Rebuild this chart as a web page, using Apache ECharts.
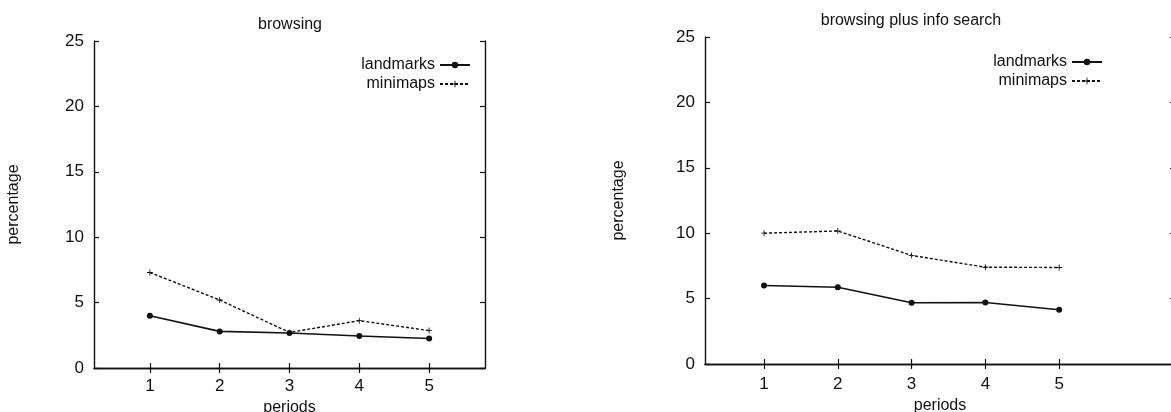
<!DOCTYPE html>
<html>
<head>
<meta charset="utf-8">
<script src="https://cdn.jsdelivr.net/npm/echarts@6/dist/echarts.min.js"></script>
<style>
html,body{margin:0;padding:0;background:#fff;}
#c{width:1171px;height:412px;}
</style>
</head>
<body>
<div id="c"></div>
<script>
// ---- data ----
var periods = [1, 2, 3, 4, 5];
var yTicks = [0, 5, 10, 15, 20, 25];
var titles = ['browsing', 'browsing plus info search'];
var seriesNames = ['landmarks', 'minimaps'];
var browsingLandmarks = [4.0, 2.8, 2.68, 2.45, 2.25];
var browsingMinimaps = [7.3, 5.2, 2.72, 3.62, 2.86];
var infoLandmarks = [6.0, 5.87, 4.68, 4.7, 4.15];
var infoMinimaps = [10.0, 10.17, 8.3, 7.4, 7.38];

function pairs(vals) { return periods.map(function (p, i) { return [p, vals[i]]; }); }

var FONT = 'Liberation Sans, Arial, Helvetica, sans-serif';
var INK = '#111';
var PLUS = 'path://M4.3,0h1.4v4.3h4.3v1.4h-4.3v4.3h-1.4v-4.3h-4.3v-1.4h4.3z';

var grids = [
  { left: 94, top: 41, width: 391, height: 327, outerBoundsMode: 'none', containLabel: false },
  { left: 705, top: 37, width: 470, height: 327, outerBoundsMode: 'none', containLabel: false }
];
var xMax = [5.8, 6.57];
var labelMargin = [10, 12];
var xNameGap = [28, 30];

var xAxes = [], yAxes = [], series = [], legends = [], titleComps = [];
var axisLine = { show: true, lineStyle: { color: INK, width: 1.4 } };
var tickLine = { color: INK, width: 1.2 };
var tick = { show: true, inside: true, length: 5, lineStyle: tickLine };

grids.forEach(function (g, gi) {
  xAxes.push({
    type: 'value', gridIndex: gi, position: 'bottom', min: 0.2, max: xMax[gi],
    axisLine: axisLine,
    axisTick: { show: true, inside: true, length: 5, lineStyle: tickLine, customValues: periods },
    axisLabel: { customValues: periods, color: INK, fontFamily: FONT, fontSize: 17, margin: labelMargin[gi] },
    splitLine: { show: false },
    name: 'periods', nameLocation: 'middle', nameGap: xNameGap[gi],
    nameTextStyle: { color: INK, fontFamily: FONT, fontSize: 16 }
  });
  xAxes.push({
    type: 'value', gridIndex: gi, position: 'top', min: 0.2, max: xMax[gi],
    axisLine: axisLine,
    axisTick: { show: true, inside: true, length: 5, lineStyle: tickLine, customValues: periods },
    axisLabel: { show: false, customValues: periods },
    splitLine: { show: false }
  });
  yAxes.push({
    type: 'value', gridIndex: gi, position: 'left', min: 0, max: 25, interval: 5,
    axisLine: axisLine, axisTick: tick,
    axisLabel: { color: INK, fontFamily: FONT, fontSize: 17, margin: 10 },
    splitLine: { show: false },
    name: 'percentage', nameLocation: 'middle', nameGap: gi === 0 ? 72 : 78, nameRotate: 90,
    nameTextStyle: { color: INK, fontFamily: FONT, fontSize: 16 }
  });
  yAxes.push({
    type: 'value', gridIndex: gi, position: 'right', min: 0, max: 25, interval: 5,
    axisLine: axisLine, axisTick: tick,
    axisLabel: { show: false }, splitLine: { show: false }
  });
});

var dataSets = [[browsingLandmarks, browsingMinimaps], [infoLandmarks, infoMinimaps]];
dataSets.forEach(function (ds, gi) {
  series.push({
    name: seriesNames[0], type: 'line', xAxisIndex: gi * 2, yAxisIndex: gi * 2,
    data: pairs(ds[0]), symbol: 'circle', symbolSize: 6,
    lineStyle: { color: INK, width: 1.6, type: 'solid' },
    itemStyle: { color: INK }, animation: false
  });
  series.push({
    name: seriesNames[1], type: 'line', xAxisIndex: gi * 2, yAxisIndex: gi * 2,
    data: pairs(ds[1]), symbol: PLUS, symbolSize: 6,
    lineStyle: { color: INK, width: 1.4, type: [3, 2] },
    itemStyle: { color: INK }, animation: false
  });
});

legends.push({
  data: seriesNames, orient: 'vertical', right: 700, top: 57, align: 'right', padding: 0,
  itemWidth: 30, itemHeight: 8, itemGap: 3, selectedMode: false,
  textStyle: { color: INK, fontFamily: FONT, fontSize: 16 }
});
legends.push({
  data: seriesNames, orient: 'vertical', right: 68, top: 54, align: 'right', padding: 0,
  itemWidth: 30, itemHeight: 8, itemGap: 3, selectedMode: false,
  textStyle: { color: INK, fontFamily: FONT, fontSize: 16 }
});

titleComps.push({ text: titles[0], left: 290, top: 17, textAlign: 'center', padding: 0,
  textStyle: { color: INK, fontFamily: FONT, fontSize: 16, fontWeight: 'normal' } });
titleComps.push({ text: titles[1], left: 911, top: 13, textAlign: 'center', padding: 0,
  textStyle: { color: INK, fontFamily: FONT, fontSize: 16, fontWeight: 'normal' } });

var chart = echarts.init(document.getElementById('c'), null, { renderer: 'canvas' });
chart.setOption({
  backgroundColor: '#fff',
  animation: false,
  title: titleComps,
  legend: legends,
  grid: grids,
  xAxis: xAxes,
  yAxis: yAxes,
  series: series
});
</script>
</body>
</html>
